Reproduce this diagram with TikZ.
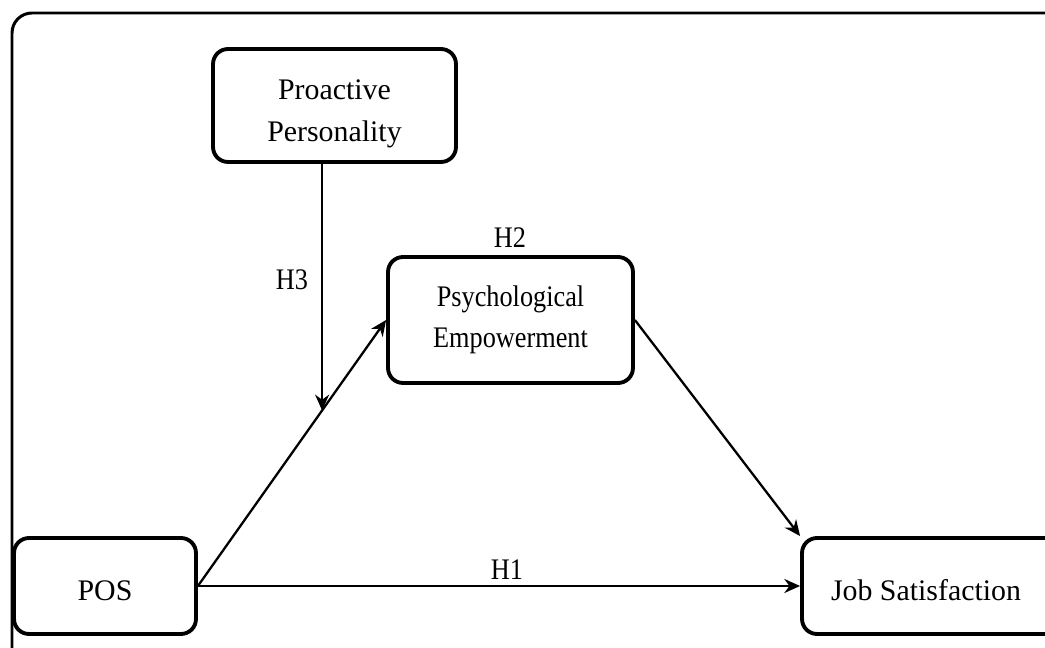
\documentclass[tikz,border=0pt]{standalone}
\usepackage{fontspec}
\setmainfont{Liberation Serif}[FakeStretch=0.88]
\newfontfamily\boxserif{Liberation Serif}
\usetikzlibrary{arrows.meta,calc}

\begin{document}
\begin{tikzpicture}[x=0.02cm,y=-0.02cm,
  var/.style={draw,line width=2.2pt,rounded corners=0.3cm,align=center,inner sep=0pt,font=\fontsize{17}{23}\selectfont},
  wide/.style={font=\boxserif\fontsize{17}{24}\selectfont},
  hyp/.style={font=\fontsize{17}{20}\selectfont},
  link/.style={-{Stealth[length=9pt,width=8pt]},line width=1.3pt}]
	\useasboundingbox (0,0) rectangle (1045,648);
	\clip (0,0) rectangle (1045,648);
	\draw[line width=1.7pt,rounded corners=0.4cm] (12,13) rectangle (1080,690);
	\node[var,wide,minimum width=4.86cm,minimum height=2.26cm] (pp) at (334.5,105.5) {\rule{0pt}{21pt}Proactive\\Personality};
	\node[var,minimum width=4.9cm,minimum height=2.52cm] (pe) at (510.5,320) {Psychological\\Empowerment};
	\node[var,wide,minimum width=3.64cm,minimum height=1.92cm] (pos) at (105,586) {\rule{0pt}{17pt}POS};
	\node[var,wide,minimum width=5.6cm,minimum height=1.92cm] (js) at (942,586) {\rule{0pt}{17pt}Job Satisfaction\hspace*{0.64cm}};
	\coordinate (h3tip) at ($(pos.east)!0.66!(pe.west)$);
	\draw[link] (pos.east) -- (pe.west);
	\draw[link] (pp.south -| h3tip) -- (h3tip);
	\draw[link] (pe.east) -- (js.north west);
	\draw[link] (pos.east) -- (js.west);
	\node[hyp] (h1) at (507,570) {H1};
	\node[hyp] (h2) at (510,238) {H2};
	\node[hyp] (h3) at (292,280) {H3};
\end{tikzpicture}
\end{document}
